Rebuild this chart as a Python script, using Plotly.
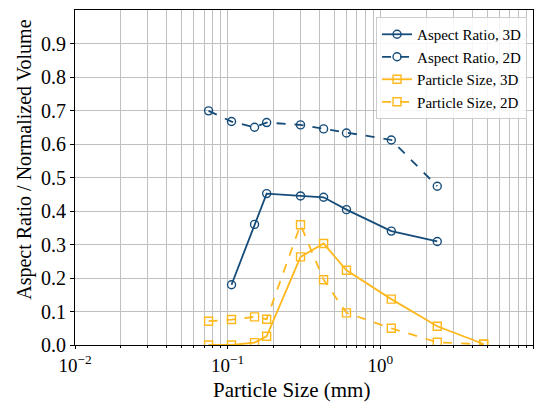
import plotly.graph_objects as go

sizes = [0.075, 0.106, 0.15, 0.18, 0.3, 0.425, 0.6, 1.18, 2.36, 4.75]

ar3d_x = [0.106, 0.15, 0.18, 0.3, 0.425, 0.6, 1.18, 2.36]
ar3d_y = [0.18, 0.36, 0.452, 0.445, 0.441, 0.404, 0.340, 0.309]

ar2d_x = [0.075, 0.106, 0.15, 0.18, 0.3, 0.425, 0.6, 1.18, 2.36]
ar2d_y = [0.699, 0.667, 0.650, 0.664, 0.657, 0.645, 0.633, 0.612, 0.474]

ps3d_x = sizes
ps3d_y = [0.0, 0.0, 0.007, 0.026, 0.263, 0.303, 0.223, 0.137, 0.056, 0.003]

ps2d_x = sizes
ps2d_y = [0.071, 0.076, 0.084, 0.077, 0.359, 0.195, 0.096, 0.050, 0.008, 0.002]

x_tickvals = [0.01, 0.1, 1, 10]
x_ticktext = ["10<sup>−2</sup>", "10<sup>−1</sup>", "10<sup>0</sup>", "10<sup>1</sup>"]
y_tickvals = [0.0, 0.1, 0.2, 0.3, 0.4, 0.5, 0.6, 0.7, 0.8, 0.9]
y_ticktext = ["0.0", "0.1", "0.2", "0.3", "0.4", "0.5", "0.6", "0.7", "0.8", "0.9"]

blue = "#154c79"
orange = "#ffb81c"
FF = "Liberation Serif"

fig = go.Figure()

def add(x, y, name, color, dash, symbol):
    fig.add_trace(go.Scatter(
        x=x, y=y, name=name, mode="lines+markers",
        line=dict(color=color, width=1.8, dash=dash),
        marker=dict(symbol=symbol, size=8, color=color,
                    line=dict(color=color, width=1.4)),
    ))

add(ar3d_x, ar3d_y, "Aspect Ratio, 3D", blue, "solid", "circle-open")
add(ar2d_x, ar2d_y, "Aspect Ratio, 2D", blue, "dash", "circle-open")
add(ps3d_x, ps3d_y, "Particle Size, 3D", orange, "solid", "square-open")
add(ps2d_x, ps2d_y, "Particle Size, 2D", orange, "dash", "square-open")

grid_color = "#c0c0c0"

fig.update_layout(
    width=544, height=403,
    margin=dict(l=75, r=11, t=10, b=58),
    paper_bgcolor="white", plot_bgcolor="white",
    font=dict(family=FF, size=17, color="black"),
    showlegend=True,
    legend=dict(
        x=0.987, y=0.979, xanchor="right", yanchor="top",
        bgcolor="rgba(255,255,255,0.85)", bordercolor="#cccccc", borderwidth=1,
        font=dict(size=15, family=FF, color="black"),
        tracegroupgap=0, itemwidth=30,
    ),
    xaxis=dict(
        type="log", range=[-2, 1], automargin=False,
        tickvals=x_tickvals, ticktext=x_ticktext,
        showgrid=True, gridcolor=grid_color, gridwidth=1,
        minor=dict(dtick="D1", showgrid=True, gridcolor=grid_color, gridwidth=1,
                   ticks="outside", ticklen=2, tickcolor="black"),
        ticks="outside", ticklen=3, tickcolor="black",
        showline=True, linecolor="black", linewidth=1.2, mirror=True,
        zeroline=False,
        tickfont=dict(size=19, family=FF, color="black"),
    ),
    yaxis=dict(
        range=[0, 1.0], automargin=False,
        tickvals=y_tickvals, ticktext=y_ticktext,
        showgrid=True, gridcolor=grid_color, gridwidth=1,
        ticks="outside", ticklen=4, tickcolor="black",
        showline=True, linecolor="black", linewidth=1.2, mirror=True,
        zeroline=False,
        tickfont=dict(size=20, family=FF, color="black"),
    ),
    annotations=[
        dict(text="Particle Size (mm)", xref="paper", yref="paper",
             x=0.472, y=-0.134, xanchor="center", yanchor="middle",
             showarrow=False, font=dict(size=21, family=FF, color="black")),
        dict(text="Aspect Ratio / Normalized Volume", xref="paper", yref="paper",
             x=-0.112, y=0.552, xanchor="center", yanchor="middle", textangle=-90,
             showarrow=False, font=dict(size=20, family=FF, color="black")),
    ],
)

fig.write_html("out.html", config={"displayModeBar": False},
               post_script="document.body.style.margin='0';")
